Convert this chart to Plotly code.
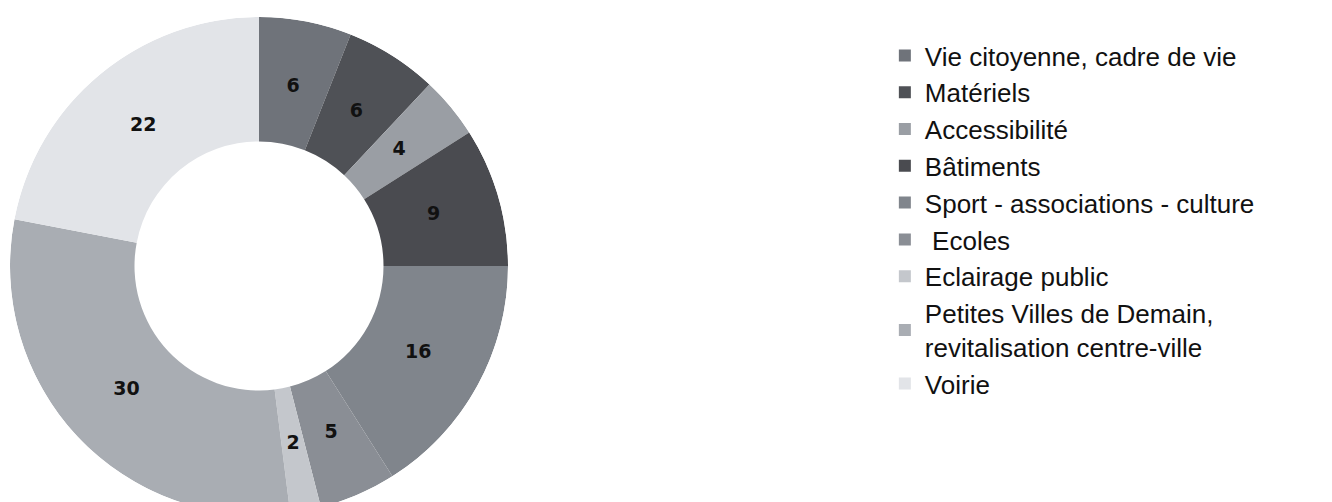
import plotly.graph_objects as go

categories = [
    "Vie citoyenne, cadre de vie",
    "Matériels",
    "Accessibilité",
    "Bâtiments",
    "Sport - associations - culture",
    " Ecoles",
    "Eclairage public",
    "Petites Villes de Demain,<br>revitalisation centre-ville",
    "Voirie",
]
values = [6, 6, 4, 9, 16, 5, 2, 30, 22]
colors = ["#6f737a", "#4f5156", "#9a9ea4", "#4a4b50", "#80858c",
          "#8a8e95", "#c4c7cc", "#a9adb3", "#e2e4e8"]

W, H = 1332, 516
total = sum(values)

# angular positions derived from the values (clockwise from 12 o'clock)
mids, widths = [], []
acc = 0
for v in values:
    mids.append((acc + v / 2) * 360 / total)
    widths.append(v * 360 / total)
    acc += v

fig = go.Figure()
for name, v, m, w, c in zip(categories, values, mids, widths, colors):
    fig.add_trace(go.Barpolar(
        name=name, r=[0.5], base=[0.5], theta=[m], width=[w],
        marker=dict(color=c, line=dict(width=0)),
        hoverinfo="name", showlegend=True,
    ))

fig.add_trace(go.Scatterpolar(
    r=[0.73] * len(values), theta=mids, mode="text",
    text=[str(v) for v in values],
    textfont=dict(family="DejaVu Sans", size=19, color="#111111", weight="bold"),
    showlegend=False, hoverinfo="skip",
))

fig.update_layout(
    width=W, height=H,
    margin=dict(l=0, r=0, t=0, b=0),
    paper_bgcolor="#ffffff",
    polar=dict(
        domain=dict(x=[2 / W, 500 / W], y=[0, 1]),
        bgcolor="rgba(0,0,0,0)",
        hole=0,
        radialaxis=dict(range=[0, 1], visible=False, showgrid=False),
        angularaxis=dict(visible=False, showgrid=False, rotation=90,
                         direction="clockwise", thetaunit="degrees"),
        bargap=0,
    ),
    showlegend=True,
    legend=dict(
        x=0.6583, y=0.9535, xanchor="left", yanchor="top",
        font=dict(family="Liberation Sans", size=26, color="#111111"),
        traceorder="normal",
        bgcolor="rgba(0,0,0,0)",
    ),
)

fig.write_html("out.html")
